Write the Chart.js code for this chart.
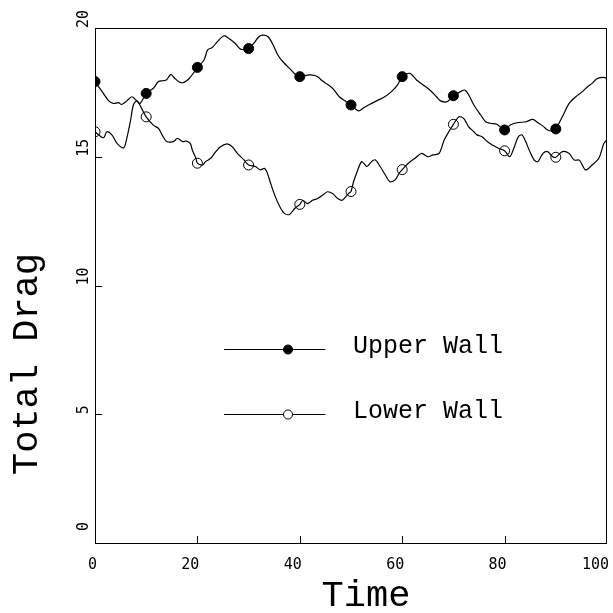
<!DOCTYPE html>
<html>
<head>
<meta charset="utf-8">
<script src="https://cdn.jsdelivr.net/npm/chart.js@4"></script>
<style>
  html, body { margin: 0; padding: 0; background: #fff; }
  #wrap { width: 613px; height: 613px; }
</style>
</head>
<body>
<div id="wrap"><canvas id="mycanvas" width="613" height="613"></canvas></div>
<script>
// upper wall trace
var upperTime = [0, 1.4, 2.7, 3.6, 4.6, 5.2, 6.2, 7.2, 8.0, 8.8, 10, 11.4, 12.4, 13.3, 14.0, 14.8, 15.6, 16.6, 17.4, 18.4, 19.4, 20,
  21.3, 22.0, 22.9, 23.9, 25.2, 26.1, 27.4, 28.4, 29.4, 30, 31.0, 32.0, 32.8, 33.8, 34.8, 35.7, 36.7, 38.0, 39.3, 40,
  41.5, 42.5, 43.5, 44.2, 45.1, 46.4, 47.7, 49.0, 50, 51.5, 52.4, 53.7, 55.3, 56.6, 57.9, 59.1, 60,
  61.5, 62.8, 64.1, 65.4, 66.7, 67.5, 68.8, 70, 71.4, 72.2, 73.0, 74.0, 75.3, 76.3, 77.2, 78.5, 80,
  81.1, 82.4, 84.2, 85.5, 86.5, 87.5, 88.4, 89.4, 90, 91.3, 92.6, 93.9, 95.2, 96.2, 97.1, 98.1, 99.4, 100];
var upperDrag = [17.92, 17.53, 17.17, 17.07, 17.10, 17.03, 17.17, 17.33, 17.20, 17.07, 17.46, 17.66, 17.92, 17.95, 17.99, 18.20, 18.04, 17.89, 17.89, 18.04, 18.30, 18.47,
  18.76, 19.15, 19.24, 19.47, 19.70, 19.60, 19.40, 19.18, 19.17, 19.20, 19.40, 19.66, 19.72, 19.66, 19.34, 18.95, 18.69, 18.43, 18.17, 18.11,
  18.17, 18.17, 18.11, 17.98, 17.85, 17.66, 17.33, 17.15, 17.01, 16.78, 16.89, 17.04, 17.20, 17.33, 17.53, 17.79, 18.11,
  18.24, 17.98, 17.79, 17.59, 17.33, 17.17, 17.14, 17.37, 17.53, 17.59, 17.40, 17.01, 16.63, 16.36, 16.30, 16.26, 16.04,
  16.23, 16.32, 16.36, 16.45, 16.32, 16.19, 16.04, 16.00, 16.08, 16.56, 17.07, 17.33, 17.53, 17.72, 17.85, 18.04, 18.08, 18.04];

// lower wall trace
var lowerTime = [0, 0.7, 1.7, 2.3, 3.3, 4.3, 5.6, 6.2, 6.9, 7.5, 8.2, 9.1, 10, 11.4, 12.4, 13.1, 14.0, 15.3, 16.1, 17.1, 17.8, 18.6, 19.0, 19.7, 20,
  21.0, 21.6, 22.6, 23.6, 24.5, 25.8, 26.8, 27.8, 29.1, 30, 31.3, 32.3, 33.1, 33.6, 34.2, 35.1, 36.1, 37.0, 38.0, 39.0, 40,
  40.6, 41.5, 42.5, 43.5, 44.5, 45.4, 46.4, 47.4, 48.3, 49.5, 50, 50.5, 51.2, 52.1, 53.1, 54.0, 54.7, 55.7, 56.7, 57.6, 58.6, 59.4, 60,
  61.2, 62.5, 63.8, 65.0, 66.0, 67.2, 68.2, 69.1, 70, 71.1, 72.0, 73.0, 74.0, 74.6, 75.6, 76.6, 77.6, 78.8, 80,
  81.0, 81.8, 82.7, 83.4, 84.2, 84.8, 85.8, 86.5, 87.5, 88.4, 89.4, 90, 91.3, 92.6, 93.6, 94.6, 95.8, 97.1, 98.4, 99.4, 100];
var lowerDrag = [15.97, 15.85, 15.74, 15.97, 15.85, 15.52, 15.35, 15.71, 16.36, 17.01, 17.17, 16.88, 16.55, 16.23, 16.10, 15.85, 15.59, 15.59, 15.71, 15.59, 15.61, 15.52, 15.26, 14.94, 14.75,
  14.68, 14.81, 14.94, 15.20, 15.39, 15.50, 15.39, 15.13, 14.88, 14.68, 14.62, 14.49, 14.55, 14.40, 14.03, 13.51, 13.06, 12.80, 12.76, 12.99, 13.15,
  13.31, 13.18, 13.31, 13.38, 13.51, 13.64, 13.57, 13.38, 13.31, 13.57, 13.65, 14.03, 14.42, 14.81, 14.62, 14.81, 14.88, 14.62, 14.29, 14.03, 14.10, 14.36, 14.50,
  14.75, 14.94, 15.13, 15.00, 15.07, 15.13, 15.65, 15.97, 16.26, 16.55, 16.49, 16.16, 15.97, 15.85, 15.78, 15.59, 15.46, 15.33, 15.23,
  15.00, 15.33, 15.78, 15.85, 15.55, 15.26, 14.87, 14.81, 15.13, 15.20, 15.00, 14.98, 15.20, 15.13, 14.87, 14.87, 14.49, 14.68, 14.94, 15.52, 15.65];

// symbols every 10 time units
var markTime = [0, 10, 20, 30, 40, 50, 60, 70, 80, 90];
var upperMarks = [17.92, 17.46, 18.47, 19.20, 18.11, 17.01, 18.11, 17.37, 16.04, 16.08];
var lowerMarks = [15.97, 16.55, 14.75, 14.68, 13.15, 13.65, 14.50, 16.26, 15.23, 14.98];

var yTicks = [0, 5, 10, 15, 20];
var xTicks = [0, 20, 40, 60, 80, 100];
var seriesNames = ['Upper Wall', 'Lower Wall'];

function pts(xs, ys) {
  var out = [];
  for (var i = 0; i < xs.length; i++) out.push({x: xs[i], y: ys[i]});
  return out;
}

var mono = '"Liberation Mono", "Courier New", monospace';
var tickFont = '"DejaVu Sans Mono", monospace';

// frame, inward ticks, tick labels, titles and the legend inside the box
var decor = {
  id: 'decor',
  afterDraw: function(chart) {
    var c = chart.ctx, a = chart.chartArea;
    var xs = chart.scales.x, ys = chart.scales.y;
    c.save();
    c.strokeStyle = '#000';
    c.lineWidth = 1;
    c.strokeRect(a.left + 0.5, a.top + 0.5, a.right - a.left - 1, a.bottom - a.top);
    c.beginPath();
    xTicks.forEach(function(t) {
      if (t == 0 || t == 100) return;
      var px = Math.round(xs.getPixelForValue(t)) + 0.5;
      c.moveTo(px, a.bottom); c.lineTo(px, a.bottom - 7);
    });
    yTicks.forEach(function(t) {
      if (t == 0 || t == 20) return;
      var py = Math.round(ys.getPixelForValue(t)) + 0.5;
      c.moveTo(a.left, py); c.lineTo(a.left + 7, py);
    });
    c.stroke();

    c.fillStyle = '#000';
    c.font = '15px ' + tickFont;

    // x tick labels, ending at the tick
    c.textAlign = 'right';
    c.textBaseline = 'middle';
    xTicks.forEach(function(t) {
      c.fillText(String(t), xs.getPixelForValue(t) + 2, a.bottom + 22);
    });

    // y tick labels, rotated
    c.textAlign = 'left';
    yTicks.forEach(function(t) {
      var py = Math.min(ys.getPixelForValue(t), a.bottom - 12);
      c.save();
      c.translate(a.left - 11, py);
      c.rotate(-Math.PI / 2);
      c.fillText(String(t), 0, 0);
      c.restore();
    });

    // axis titles
    c.font = '37px ' + mono;
    c.textAlign = 'center';
    c.fillText('Time', 366, 596);
    c.save();
    c.translate(27, 364);
    c.rotate(-Math.PI / 2);
    c.fillText('Total Drag', 0, 0);
    c.restore();

    // legend
    var legY = [7.53, 5.02];
    var x0 = xs.getPixelForValue(25.2), x1 = xs.getPixelForValue(45);
    var xm = xs.getPixelForValue(37.7), xt = xs.getPixelForValue(50.4);
    c.font = '25px ' + mono;
    c.textAlign = 'left';
    for (var i = 0; i < 2; i++) {
      var py = Math.round(ys.getPixelForValue(legY[i])) + 0.5;
      c.beginPath();
      c.lineWidth = 1.2;
      c.moveTo(x0, py); c.lineTo(x1, py);
      c.stroke();
      c.beginPath();
      c.arc(xm, py, 4.5, 0, Math.PI * 2);
      c.fillStyle = i == 0 ? '#000' : '#fff';
      c.fill();
      c.lineWidth = 1;
      c.stroke();
      c.fillStyle = '#000';
      c.fillText(seriesNames[i], xt, py - 3);
    }
    c.restore();
  }
};

var ctx = document.getElementById('mycanvas');
var chart = new Chart(ctx, {
  type: 'scatter',
  data: {
    datasets: [
      { label: seriesNames[0], data: pts(upperTime, upperDrag), showLine: true, borderColor: '#000', borderWidth: 1.2, pointRadius: 0, tension: 0.3 },
      { label: seriesNames[1], data: pts(lowerTime, lowerDrag), showLine: true, borderColor: '#000', borderWidth: 1.2, pointRadius: 0, tension: 0.3 },
      { label: 'upper marks', data: pts(markTime, upperMarks), showLine: false, pointRadius: 5, pointBackgroundColor: '#000', pointBorderColor: '#000', pointBorderWidth: 1 },
      { label: 'lower marks', data: pts(markTime, lowerMarks), showLine: false, pointRadius: 5, pointBackgroundColor: '#fff', pointBorderColor: '#000', pointBorderWidth: 1 }
    ]
  },
  options: {
    responsive: false,
    animation: false,
    layout: { padding: { top: 28, right: 3, left: 0, bottom: 0 } },
    plugins: { legend: { display: false }, tooltip: { enabled: false } },
    scales: {
      x: {
        type: 'linear', min: 0, max: 100,
        grid: { display: false, drawTicks: false },
        border: { display: false },
        ticks: { display: false, stepSize: 20 },
        afterFit: function(s) { s.height = 70; }
      },
      y: {
        min: 0, max: 20,
        grid: { display: false, drawTicks: false },
        border: { display: false },
        ticks: { display: false, stepSize: 5 },
        afterFit: function(s) { s.width = 95; }
      }
    }
  },
  plugins: [decor]
});
</script>
</body>
</html>
